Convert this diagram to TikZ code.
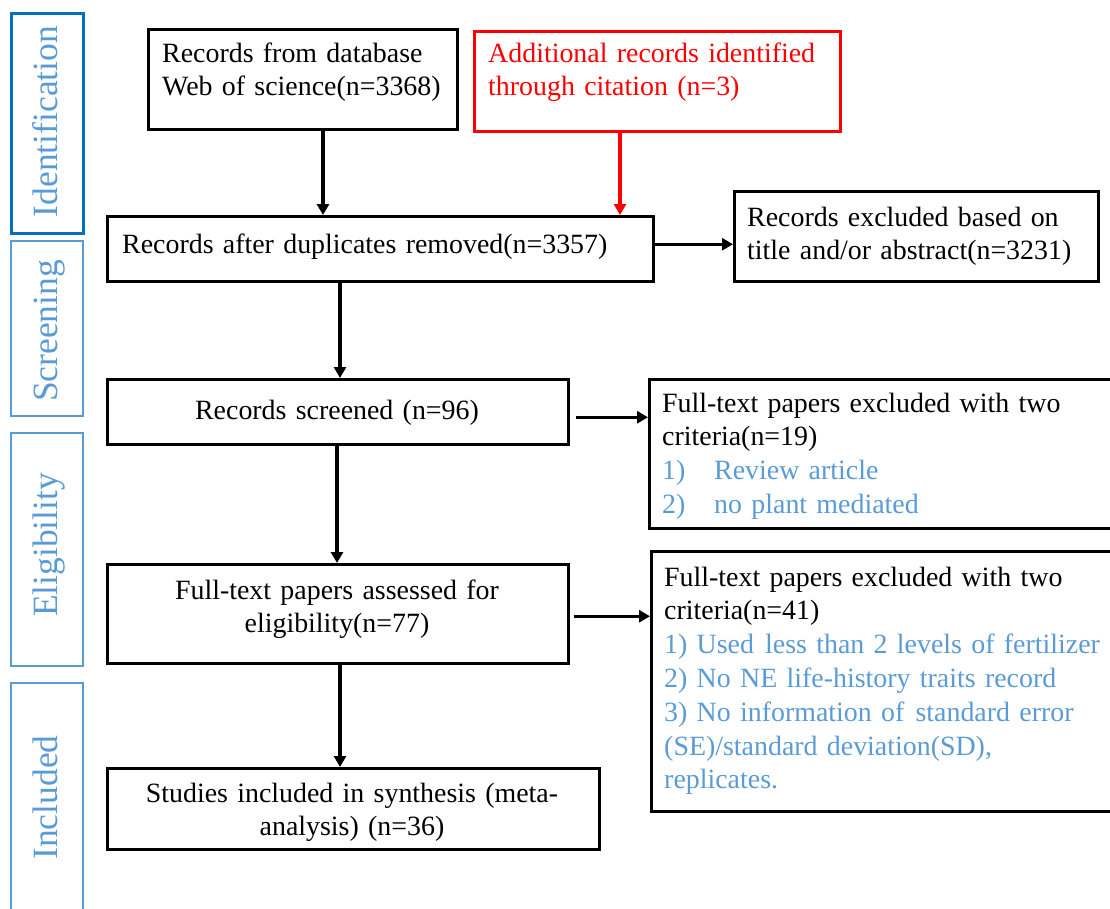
\documentclass[tikz,border=0pt]{standalone}
\usepackage{fontspec}
\setmainfont{Liberation Serif}
\usetikzlibrary{arrows.meta}
\definecolor{darkblue}{RGB}{0,112,192}
\definecolor{lightblue}{RGB}{91,155,213}
\definecolor{pured}{RGB}{255,0,0}
\tikzset{
  box/.style={draw=black, line width=2.5pt, inner sep=0pt, anchor=north west},
  redbox/.style={box, draw=pured},
  side/.style={draw=lightblue, line width=1.5pt, inner sep=0pt, anchor=north west},
  sidetext/.style={text=lightblue, rotate=90, anchor=base, inner sep=0pt, font=\fontsize{35.5}{40}\selectfont},
  txt/.style={inner sep=0pt, font=\fontsize{27.9}{33.8}\selectfont},
  ltxt/.style={txt, anchor=base west, align=left, text width=440pt},
  ctxt/.style={txt, anchor=base, align=center, text width=480pt},
  arr/.style={line width=3.2pt, -{Triangle[length=11pt,width=12pt]}},
}
\begin{document}
\begin{tikzpicture}[x=1pt,y=-1pt]
\useasboundingbox (0,0) rectangle (1110,908);
% side labels
\node[side, draw=darkblue, line width=2.5pt, minimum width=72pt, minimum height=220pt] (sid) at (10,12) {};
\node[side, minimum width=72pt, minimum height=175pt] (sscr) at (10,240) {};
\node[side, minimum width=72pt, minimum height=233pt] (selg) at (10,432) {};
\node[side, minimum width=72pt, minimum height=233pt] (sinc) at (10,682) {};
\node[sidetext] (tid) at (57,121.5) {Identification};
\node[sidetext] (tscr) at (57,331) {Screening};
\node[sidetext] (telg) at (57,545) {Eligibility};
\node[sidetext] (tinc) at (57,797.5) {Included};
% boxes
\node[box, minimum width=309pt, minimum height=100pt] (A) at (147,28) {};
\node[redbox, minimum width=366pt, minimum height=100pt] (B) at (473,30) {};
\node[box, minimum width=546pt, minimum height=65pt] (C) at (106,215) {};
\node[box, minimum width=364pt, minimum height=90pt] (D) at (733,190) {};
\node[box, minimum width=461pt, minimum height=65pt] (E) at (106,378) {};
\node[box, minimum width=466pt, minimum height=149pt] (F) at (648,378) {};
\node[box, minimum width=461pt, minimum height=99pt] (G) at (106,563) {};
\node[box, minimum width=464pt, minimum height=260pt] (H) at (650,550) {};
\node[box, minimum width=492pt, minimum height=81pt] (I) at (106,767) {};
% texts
\node[ltxt] (At) at (162,62) {Records from database\\Web of science(n=3368)};
\node[ltxt, text=pured] (Bt) at (488,62) {Additional records identified\\through citation (n=3)};
\node[ltxt, text width=540pt] (Ct) at (122,253) {Records after duplicates removed(n=3357)};
\node[ltxt] (Dt) at (747,226) {Records excluded based on\\title and/or abstract(n=3231)};
\node[ctxt] (Et) at (337,419) {Records screened (n=96)};
\node[ltxt] (Ft) at (662,412) {Full-text papers excluded with two\\criteria(n=19)\\
  \textcolor{lightblue}{\makebox[52pt][l]{1)}Review article}\\
  \textcolor{lightblue}{\makebox[52pt][l]{2)}no plant mediated}};
\node[ctxt] (Gt) at (337,599) {Full-text papers assessed for\\eligibility(n=77)};
\node[ltxt, text width=445pt] (Ht) at (664,586) {Full-text papers excluded with two\\criteria(n=41)\\
  \textcolor{lightblue}{1) Used\hspace{0.4em}less than 2 levels of fertilizer}\\
  \textcolor{lightblue}{2) No NE life-history traits record}\\
  \textcolor{lightblue}{3) No information of\hspace{0.4em}standard error}\\
  \textcolor{lightblue}{(SE)/standard deviation(SD),}\\
  \textcolor{lightblue}{replicates.}};
\node[ctxt] (It) at (352,802) {Studies included in synthesis (meta-\\analysis) (n=36)};
% arrows
\draw[arr] (A.south -| 323,0) -- (C.north -| 323,0);
\draw[arr, draw=pured, fill=pured] (B.south -| 620,0) -- (C.north -| 620,0);
\draw[arr] ([yshift=4.5pt]C.east) -- ([yshift=4.5pt]C.east -| D.west);
\draw[arr] (C.south -| 340,0) -- (E.north -| 340,0);
\draw[arr] ([xshift=6pt,yshift=-5.5pt]E.east) -- ([yshift=-5.5pt]E.east -| F.west);
\draw[arr] (E.south -| 337,0) -- (G.north -| 337,0);
\draw[arr] ([xshift=4pt,yshift=-2.5pt]G.east) -- ([yshift=-2.5pt]G.east -| H.west);
\draw[arr] (G.south -| 340,0) -- (I.north -| 340,0);
\end{tikzpicture}
\end{document}
